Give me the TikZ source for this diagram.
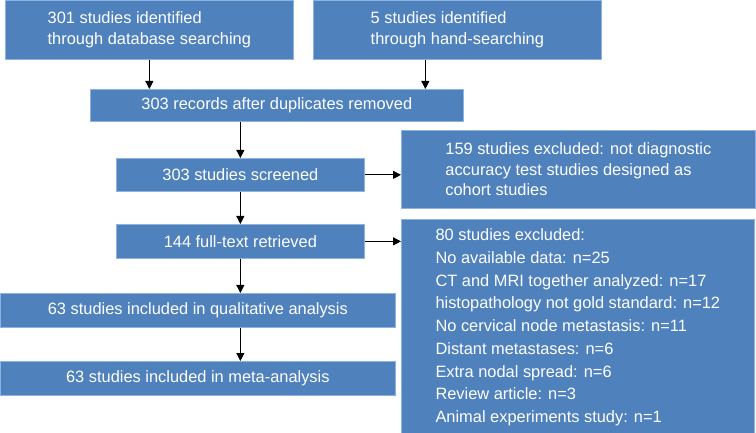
\documentclass[tikz,border=0pt]{standalone}
\usepackage{fontspec}
\setmainfont{Liberation Sans}
\usetikzlibrary{arrows.meta}
\definecolor{boxfill}{HTML}{4F81BD}
\definecolor{boxline}{HTML}{8DB3E2}
\tikzset{
  box/.style={fill=boxfill, draw=boxline, line width=0.7pt, text=white, inner sep=0pt, anchor=north west, align=left,
    font=\fontsize{16.4}{20.5}\selectfont},
  conn/.style={line width=1pt, -{Triangle[length=8pt,width=8pt]}}
}
\begin{document}
\begin{tikzpicture}[x=1pt,y=-1pt]
\useasboundingbox (0,0) rectangle (756,433);
\node[box, minimum width=288pt, minimum height=59pt] (b1) at (5,0) {301 studies identified\\through database searching};
\node[box, minimum width=288pt, minimum height=59pt] (b2) at (313,0) {5 studies identified\\through hand-searching};
\node[box, minimum width=373pt, minimum height=32pt] (b3) at (90,89) {303 records after duplicates removed};
\node[box, minimum width=248pt, minimum height=33pt] (b4) at (116,158) {303 studies screened};
\node[box, minimum width=354pt, minimum height=78pt] (b5) at (401,130) {159 studies excluded: not diagnostic\\accuracy test studies designed as\\cohort studies};
\node[box, minimum width=248pt, minimum height=34pt] (b7) at (116,224) {144 full-text retrieved};
\node[box, minimum width=353pt, minimum height=216pt, font=\fontsize{16.4}{22.75}\selectfont] (b6) at (401,219) {80 studies excluded:\\No available data: n=25\\CT and MRI together analyzed: n=17\\histopathology not gold standard: n=12\\No cervical node metastasis: n=11\\Distant metastases: n=6\\Extra nodal spread: n=6\\Review article: n=3\\Animal experiments study: n=1};
\node[box, minimum width=395pt, minimum height=34pt] (b8) at (0,293) {63 studies included in qualitative analysis};
\node[box, minimum width=395pt, minimum height=34pt] (b9) at (0,361) {63 studies included in meta-analysis};
\draw[conn] (b1.south) -- (b1.south |- b3.north);
\draw[conn] ([xshift=-32pt]b2.south) -- ([xshift=-32pt]b2.south |- b3.north);
\draw[conn] (b4.north |- b3.south) -- (b4.north);
\draw[conn] (b4.south) -- (b7.north);
\draw[conn] (b7.south) -- (b7.south |- b8.north);
\draw[conn] (b7.south |- b8.south) -- (b7.south |- b9.north);
\draw[conn] (b4.east) -- (b4.east -| b5.west);
\draw[conn] (b7.east) -- (b7.east -| b6.west);
\end{tikzpicture}
\end{document}
